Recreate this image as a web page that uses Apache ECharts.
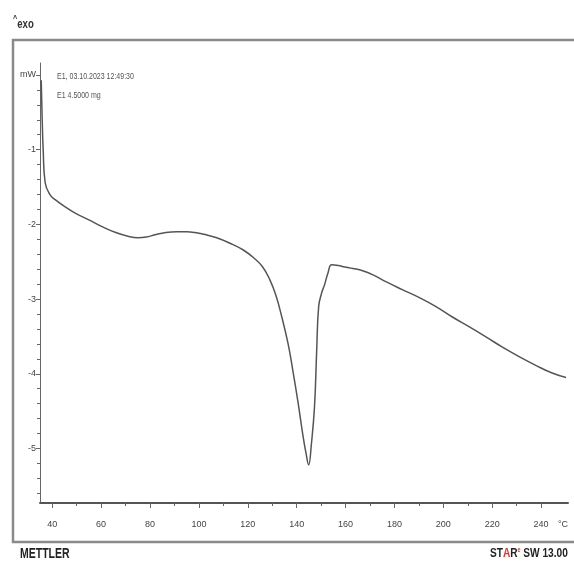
<!DOCTYPE html>
<html><head><meta charset="utf-8">
<script src="https://cdn.jsdelivr.net/npm/echarts@6/dist/echarts.min.js"></script>
<style>html,body{margin:0;padding:0;background:#fff}#c{width:574px;height:568px}</style>
</head><body><div id="c"></div>
<script>
// Temperature (°C) and heat flow (mW)
const temperatures = [35.5, 35.9, 36.3, 37.1, 39.2, 41.2, 45.0, 49.4, 55.0, 60.4, 66.0, 71.0, 75.1, 78.5, 82.0, 86.5, 91.0, 95.0, 98.4, 103.0, 107.3, 112.5, 118.0, 122.5, 126.1, 129.0, 131.5, 134.0, 136.5, 138.4, 140.5, 142.4, 143.8, 144.9, 146.0, 147.3, 148.2, 149.0, 150.2, 151.4, 152.8, 154.3, 157.0, 159.6, 163.0, 167.0, 171.5, 176.7, 183.0, 190.2, 197.0, 203.7, 210.5, 217.6, 224.0, 231.0, 238.0, 244.5, 250.2];
const heatFlow = [-0.07, -0.60, -1.00, -1.44, -1.61, -1.67, -1.76, -1.85, -1.94, -2.03, -2.11, -2.16, -2.18, -2.17, -2.14, -2.11, -2.10, -2.10, -2.11, -2.14, -2.18, -2.25, -2.34, -2.45, -2.57, -2.74, -2.95, -3.25, -3.60, -3.95, -4.37, -4.79, -5.06, -5.22, -4.95, -4.44, -3.68, -3.10, -2.92, -2.81, -2.65, -2.54, -2.55, -2.57, -2.59, -2.62, -2.68, -2.77, -2.87, -2.98, -3.10, -3.24, -3.37, -3.51, -3.64, -3.77, -3.89, -3.99, -4.05];

const xMajorTicks = [40, 60, 80, 100, 120, 140, 160, 180, 200, 220, 240];
const xMinorTicks = [50, 70, 90, 110, 130, 150, 170, 190, 210, 230];
const yMajorTicks = [0, -1, -2, -3, -4, -5];
const yMinorTicks = [-0.2, -0.4, -0.6, -0.8, -1.2, -1.4, -1.6, -1.8, -2.2, -2.4, -2.6, -2.8, -3.2, -3.4, -3.6, -3.8, -4.2, -4.4, -4.6, -4.8, -5.2, -5.4, -5.6];
const yUnitLabel = 'mW';
const xUnitLabel = '°C';
const infoLines = ['E1, 03.10.2023 12:49:30', 'E1 4.5000 mg'];

const chart = echarts.init(document.getElementById('c'), null, {renderer: 'canvas'});
const axisColor = '#666';
const FONT = 'Liberation Sans, Arial, sans-serif';
const labelFont = {color: '#444', fontSize: 9, fontFamily: FONT};

chart.setOption({
  animation: false,
  backgroundColor: '#fff',
  grid: {left: 40, top: 63, right: 6, bottom: 65, containLabel: false},
  xAxis: [{
    type: 'value', min: 35, max: 251, position: 'bottom',
    axisLine: {show: true, onZero: false, lineStyle: {color: '#555', width: 2}},
    axisTick: {show: true, customValues: xMajorTicks, length: 5, lineStyle: {color: axisColor}},
    axisLabel: {show: true, customValues: xMajorTicks, margin: 17, ...labelFont},
    splitLine: {show: false}
  }, {
    type: 'value', min: 35, max: 251, position: 'bottom',
    axisLine: {show: false, onZero: false},
    axisTick: {show: true, customValues: xMinorTicks, length: 3, lineStyle: {color: axisColor}},
    axisLabel: {show: false},
    splitLine: {show: false}
  }],
  yAxis: [{
    type: 'value', min: -5.73, max: 0.16, position: 'left',
    axisLine: {show: true, onZero: false, lineStyle: {color: axisColor, width: 1}},
    axisTick: {show: true, customValues: yMajorTicks, length: 4, lineStyle: {color: axisColor}},
    axisLabel: {show: true, customValues: yMajorTicks, margin: 4,
      formatter: v => (v === 0 ? yUnitLabel : String(v)), ...labelFont},
    splitLine: {show: false}
  }, {
    type: 'value', min: -5.73, max: 0.16, position: 'left',
    axisLine: {show: false, onZero: false},
    axisTick: {show: true, customValues: yMinorTicks, length: 3, lineStyle: {color: axisColor}},
    axisLabel: {show: false},
    splitLine: {show: false}
  }],
  series: [{
    type: 'line',
    data: temperatures.map((t, i) => [t, heatFlow[i]]),
    showSymbol: false,
    smooth: 0.45,
    lineStyle: {color: '#555', width: 1.5},
    silent: true
  }],
  graphic: [
    {type: 'rect', shape: {x: 13, y: 40, width: 600, height: 502},
     style: {fill: 'none', stroke: '#8a8a8a', lineWidth: 2.5}, silent: true},
    {type: 'text', x: 13, y: 14, scaleX: 0.8, originX: 0, style: {
      text: '{a|^}{b|exo}', rich: {
        a: {fontSize: 9, fontWeight: 'bold', fill: '#333', verticalAlign: 'top', fontFamily: FONT},
        b: {fontSize: 12, fontWeight: 'bold', fill: '#333', fontFamily: FONT, padding: [5, 0, 0, 0]}
      }}},
    {type: 'text', x: 57, y: 72, scaleX: 0.78, originX: 0, style: {text: infoLines[0], fontSize: 9, fill: '#555', fontFamily: FONT}},
    {type: 'text', x: 57, y: 91, scaleX: 0.78, originX: 0, style: {text: infoLines[1], fontSize: 9, fill: '#555', fontFamily: FONT}},
    {type: 'text', x: 558, y: 520, style: {text: xUnitLabel, fontSize: 9, fill: '#444', fontFamily: FONT}},
    {type: 'text', x: 20, y: 547, scaleX: 0.75, originX: 0, style: {text: 'METTLER', fontSize: 14, fontWeight: 'bold', fill: '#222', fontFamily: FONT}},
    {type: 'text', x: 490, y: 547, scaleX: 0.78, originX: 0, style: {
      text: '{k|ST}{r|A}{k|R}{s|e} {k|SW 13.00}', rich: {
        k: {fontSize: 13, fontWeight: 'bold', fill: '#222', fontFamily: FONT},
        r: {fontSize: 13, fontWeight: 'bold', fill: '#e53030', fontFamily: FONT},
        s: {fontSize: 7, fontWeight: 'bold', fill: '#e53030', verticalAlign: 'top', fontFamily: FONT}
      }}}
  ]
});
</script></body></html>
